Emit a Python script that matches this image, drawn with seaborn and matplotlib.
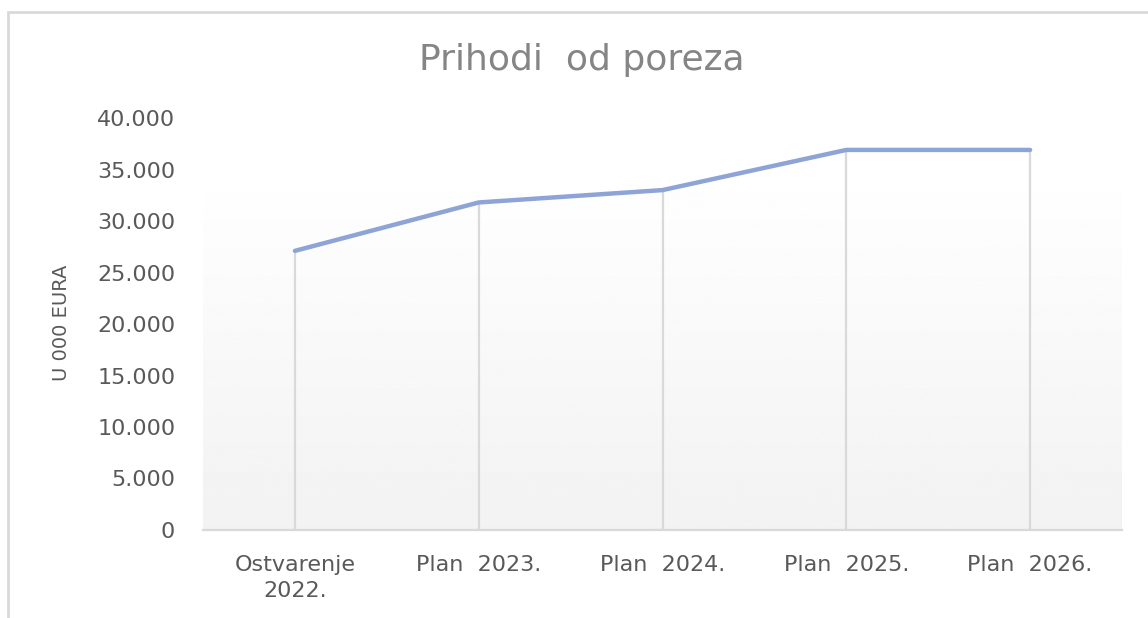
"""
Prihodi od poreza - line chart
"""

import seaborn as sns
import pandas as pd
import numpy as np
import matplotlib.pyplot as plt
from matplotlib.patches import Rectangle
from matplotlib.ticker import FuncFormatter, FixedLocator

categories = ["Ostvarenje\n2022.", "Plan  2023.", "Plan  2024.", "Plan  2025.", "Plan  2026."]
values = [27100, 31800, 33000, 36900, 36900]
y_ticks = [0, 5000, 10000, 15000, 20000, 25000, 30000, 35000, 40000]

df = pd.DataFrame({'pos': np.arange(len(categories)), 'iznos': values})

sns.set_style('white')
plt.rcParams['font.family'] = ['DejaVu Sans']

fig = plt.figure(figsize=(11.48, 6.18), dpi=100)
ax = fig.add_axes([203 / 1148, 1 - 530 / 618, 919 / 1148, 412 / 618])

# soft gradient behind the plot
grad = np.linspace(1.0, 0.949, 256).reshape(-1, 1)
ax.imshow(grad, cmap='gray', vmin=0, vmax=1, aspect='auto',
          extent=[0, 1, 0, 367 / 412], transform=ax.transAxes, zorder=0)

ax.vlines(df['pos'], 0, df['iznos'], color='#D9D9D9', lw=1.6, zorder=1)
sns.lineplot(data=df, x='pos', y='iznos', ax=ax, color='#8FA4D6', lw=3.2,
             solid_capstyle='round', zorder=3)

ax.set_xlim(-0.5, len(categories) - 0.5)
ax.set_ylim(0, 40000)
ax.set_yticks(y_ticks)
ax.yaxis.set_major_formatter(FuncFormatter(lambda v, p: f'{v:,.0f}'.replace(',', '.')))
ax.set_xticks(df['pos'])
ax.set_xticklabels(categories, linespacing=1.4)
ax.xaxis.set_minor_locator(FixedLocator(np.arange(-0.5, len(categories), 1.0)))

ax.tick_params(axis='y', length=0, pad=20, labelsize=16, labelcolor='#595959')
ax.tick_params(axis='x', which='major', length=0, pad=18, labelsize=16, labelcolor='#595959')
ax.tick_params(axis='x', which='minor', length=6, width=1.6, color='#D9D9D9', direction='out')

for side in ['top', 'right', 'left']:
    ax.spines[side].set_visible(False)
ax.spines['bottom'].set_color('#D9D9D9')
ax.spines['bottom'].set_linewidth(1.6)

ax.set_xlabel('')
ax.set_ylabel('U 000 EURA', fontsize=14, color='#595959')
ax.yaxis.set_label_coords(-132 / 919, 207 / 412)

fig.text(582 / 1148, 1 - 60 / 618, 'Prihodi  od poreza', ha='center', va='center',
         fontsize=26, color='#858585')

# chart frame
fig.patches.append(Rectangle((8 / 1148, -0.1), 1.2, 1.1 - 12 / 618,
                             transform=fig.transFigure, fill=False,
                             edgecolor='#D9D9D9', lw=2, zorder=0))

fig.savefig('out.png', dpi=100)
